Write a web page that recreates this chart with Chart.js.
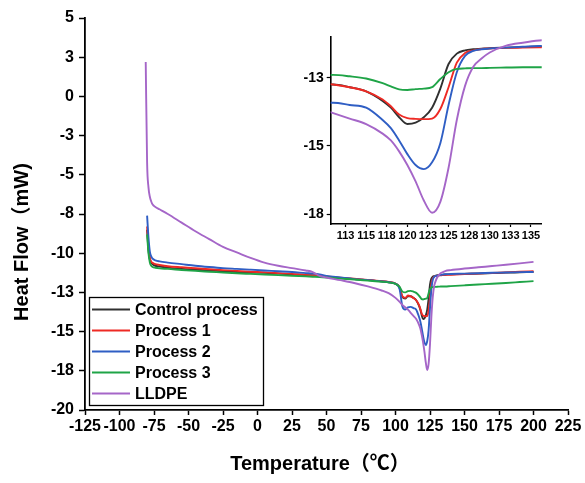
<!DOCTYPE html>
<html>
<head>
<meta charset="utf-8">
<script src="https://cdn.jsdelivr.net/npm/chart.js@4.4.0/dist/chart.umd.min.js"></script>
<style>
  html, body { margin: 0; padding: 0; background: #fff; }
  #wrap { position: relative; width: 585px; height: 483px; }
  #main { position: absolute; left: 0; top: 0; }
  #inset { position: absolute; left: 290px; top: 0; }
</style>
</head>
<body>
<div id="wrap">
  <canvas id="main" width="585" height="483"></canvas>
  <canvas id="inset" width="270" height="245"></canvas>
</div>
<script>
/* DSC heat flow curves, full scan + zoom on the melting peak */

const temps = [-81, -80, -79, -78, -77, -76, -74, -71,
  -65, -55, -45, -35, -25, -15, -5,
  5, 15, 25, 35, 40, 45, 50,
  60, 70, 80, 90, 95, 100,
  103, 105, 107, 109, 111, 113, 115, 117,
  118, 119, 120, 121, 122, 123, 124, 125,
  126, 127, 128, 129, 130, 132, 134, 136,
  140, 150, 160, 170, 180, 190, 200];

const controlFlow = [null, -8.5, -9.8, -10.4, -10.6, -10.7, -10.8, -10.85,
  -10.92, -11.0, -11.05, -11.1, -11.15, -11.2, -11.22,
  -11.25, -11.3, -11.35, -11.4, -11.42, -11.45, -11.5,
  -11.58, -11.65, -11.72, -11.8, -11.85, -11.95,
  -12.2, -12.8, -12.9, -12.75, -12.75, -12.85, -13.0, -13.35,
  -13.6, -13.95, -14.2, -14.15, -13.95, -13.6, -12.9, -12.0,
  -11.62, -11.5, -11.46, -11.44, -11.42, -11.4, -11.38, -11.36,
  -11.35, -11.32, -11.3, -11.27, -11.24, -11.22, -11.2];

const process1Flow = [null, -8.3, -9.6, -10.3, -10.55, -10.62, -10.7, -10.75,
  -10.83, -10.9, -10.96, -11.02, -11.08, -11.13, -11.18,
  -11.22, -11.27, -11.32, -11.38, -11.4, -11.43, -11.48,
  -11.56, -11.63, -11.7, -11.78, -11.83, -11.93,
  -12.2, -12.75, -12.85, -12.7, -12.75, -12.85, -13.0, -13.3,
  -13.55, -13.85, -13.98, -14.01, -14.02, -14.0, -13.65, -12.85,
  -11.95, -11.6, -11.5, -11.45, -11.43, -11.41, -11.4, -11.39,
  -11.37, -11.33, -11.3, -11.26, -11.22, -11.18, -11.15];

const process2Flow = [null, -7.6, -9.0, -9.9, -10.2, -10.35, -10.45, -10.52,
  -10.6, -10.7, -10.8, -10.88, -10.95, -11.0, -11.05,
  -11.1, -11.15, -11.2, -11.27, -11.3, -11.35, -11.45,
  -11.55, -11.65, -11.72, -11.8, -11.85, -11.95,
  -12.3, -13.4, -13.6, -13.45, -13.42, -13.5, -13.6, -14.05,
  -14.35, -14.8, -15.3, -15.7, -15.85, -15.6, -14.9, -13.5,
  -12.3, -11.7, -11.52, -11.46, -11.43, -11.4, -11.37, -11.34,
  -11.33, -11.3, -11.28, -11.25, -11.23, -11.21, -11.2];

const process3Flow = [null, -8.8, -10.0, -10.6, -10.8, -10.88, -10.93, -10.97,
  -11.0, -11.07, -11.13, -11.18, -11.23, -11.28, -11.32,
  -11.36, -11.4, -11.44, -11.48, -11.5, -11.52, -11.55,
  -11.62, -11.68, -11.75, -11.82, -11.86, -11.95,
  -12.15, -12.45, -12.5, -12.42, -12.4, -12.45, -12.53, -12.7,
  -12.82, -12.93, -12.95, -12.92, -12.9, -12.85, -12.55, -12.3,
  -12.18, -12.16, -12.15, -12.15, -12.14, -12.13, -12.12, -12.12,
  -12.1, -12.05, -12.0, -11.95, -11.9, -11.84, -11.78];

const lldpeFlow = [2.2, -4.2, -5.8, -6.4, -6.7, -6.9, -7.05, -7.2,
  -7.5, -8.05, -8.6, -9.1, -9.6, -9.95, -10.3,
  -10.6, -10.8, -10.95, -11.1, -11.2, -11.45, -11.55,
  -11.72, -11.9, -12.12, -12.38, -12.55, -12.85,
  -13.1, -13.3, -13.45, -13.6, -13.8, -14.0, -14.2, -14.55,
  -14.8, -15.2, -15.7, -16.3, -17.0, -17.45, -17.05, -15.8,
  -14.05, -12.8, -12.1, -11.8, -11.58, -11.33, -11.22, -11.14,
  -11.08, -10.98, -10.9, -10.82, -10.74, -10.65, -10.55];

const seriesNames = ['Control process', 'Process 1', 'Process 2', 'Process 3', 'LLDPE'];
const seriesColors = ['#303030', '#ee2a24', '#2f5ec4', '#1fa447', '#a566c8'];
const seriesValues = [controlFlow, process1Flow, process2Flow, process3Flow, lldpeFlow];

// main axes ticks (y labels are the rounded 2.5 steps)
const xTicks = [-125, -100, -75, -50, -25, 0, 25, 50, 75, 100, 125, 150, 175, 200, 225];
const yTicks = [-20, -17.5, -15, -12.5, -10, -7.5, -5, -2.5, 0, 2.5, 5];
const yTickLabels = ['-20', '-18', '-15', '-13', '-10', '-8', '-5', '-3', '0', '3', '5'];

// inset ticks
const insetXTicks = [112.5, 115, 117.5, 120, 122.5, 125, 127.5, 130, 132.5, 135];
const insetXTickLabels = ['113', '115', '118', '120', '123', '125', '128', '130', '133', '135'];
const insetYTicks = [-17.5, -15, -12.5];
const insetYTickLabels = ['-18', '-15', '-13'];

const FONT = "'Liberation Sans', Arial, 'Noto Sans CJK SC', sans-serif";

function makeDatasets(width) {
  return seriesNames.map((name, i) => ({
    label: name,
    data: temps.map((t, j) => ({ x: t, y: seriesValues[i][j] })),
    borderColor: seriesColors[i],
    borderWidth: width,
    pointRadius: 0,
    fill: false,
    cubicInterpolationMode: 'monotone',
    order: seriesNames.length - i
  }));
}

function fixedTicks(values, labels) {
  return {
    afterBuildTicks: axis => { axis.ticks = values.map(v => ({ value: v })); },
    ticks: { callback: (v, i) => labels ? labels[i] : String(v) }
  };
}

// titles + boxed legend for the main plot
const decorations = {
  id: 'decorations',
  afterDraw(chart) {
    const ctx = chart.ctx;
    ctx.save();
    ctx.fillStyle = '#000';
    ctx.font = 'bold 20px ' + FONT;
    ctx.textAlign = 'center';
    ctx.textBaseline = 'middle';
    ctx.fillText('Temperature（℃）', 320, 464);
    ctx.translate(22, 242);
    ctx.rotate(-Math.PI / 2);
    ctx.fillText('Heat Flow（mW)', 0, 0);
    ctx.restore();

    ctx.save();
    ctx.fillStyle = '#fff';
    ctx.fillRect(89, 297, 174, 108);
    ctx.strokeStyle = '#000';
    ctx.lineWidth = 1.3;
    ctx.strokeRect(89.5, 297.5, 174, 108);
    ctx.font = 'bold 16px ' + FONT;
    ctx.textBaseline = 'middle';
    seriesNames.forEach((name, i) => {
      const y = 309.5 + i * 21;
      ctx.strokeStyle = seriesColors[i];
      ctx.lineWidth = 1.8;
      ctx.beginPath();
      ctx.moveTo(92, y);
      ctx.lineTo(130, y);
      ctx.stroke();
      ctx.fillStyle = '#000';
      ctx.fillText(name, 135, y + 1);
    });
    ctx.restore();
  }
};

const mainX = fixedTicks(xTicks);
const mainY = fixedTicks(yTicks, yTickLabels);

new Chart(document.getElementById('main'), {
  type: 'line',
  data: { datasets: makeDatasets(1.9) },
  options: {
    responsive: false,
    animation: false,
    layout: { padding: { left: 0, top: 18, right: 17, bottom: 0 } },
    plugins: { legend: { display: false }, tooltip: { enabled: false } },
    scales: {
      x: {
        type: 'linear', min: -125, max: 225,
        afterBuildTicks: mainX.afterBuildTicks,
        afterFit: s => { s.height = 73; },
        grid: { drawOnChartArea: false, tickLength: 5, color: '#000', tickWidth: 1.5 },
        border: { color: '#000', width: 1.8 },
        ticks: { ...mainX.ticks, autoSkip: false, maxRotation: 0, color: '#000', padding: 2,
          font: { family: FONT, size: 16, weight: 'bold' } }
      },
      y: {
        type: 'linear', min: -20, max: 5,
        afterBuildTicks: mainY.afterBuildTicks,
        afterFit: s => { s.width = 85; },
        grid: { drawOnChartArea: false, tickLength: 6, color: '#000', tickWidth: 1.5 },
        border: { color: '#000', width: 1.8 },
        ticks: { ...mainY.ticks, autoSkip: false, color: '#000', padding: 5,
          font: { family: FONT, size: 16, weight: 'bold' } }
      }
    }
  },
  plugins: [decorations]
});

const insX = fixedTicks(insetXTicks, insetXTickLabels);
const insY = fixedTicks(insetYTicks, insetYTickLabels);

new Chart(document.getElementById('inset'), {
  type: 'line',
  data: { datasets: makeDatasets(1.9) },
  options: {
    responsive: false,
    animation: false,
    layout: { padding: { left: 0, top: 36.7, right: 18.3, bottom: 0 } },
    plugins: { legend: { display: false }, tooltip: { enabled: false } },
    scales: {
      x: {
        type: 'linear', min: 110.7, max: 136.3,
        afterBuildTicks: insX.afterBuildTicks,
        afterFit: s => { s.height = 21; },
        grid: { drawOnChartArea: false, tickLength: 3, color: '#000', tickWidth: 1.2 },
        border: { color: '#000', width: 1.6 },
        ticks: { ...insX.ticks, autoSkip: false, maxRotation: 0, color: '#000', padding: 2,
          font: { family: FONT, size: 11, weight: 'bold' } }
      },
      y: {
        type: 'linear', min: -17.86, max: -11.0,
        afterBuildTicks: insY.afterBuildTicks,
        afterFit: s => { s.width = 40.7; },
        grid: { drawOnChartArea: false, tickLength: 4, color: '#000', tickWidth: 1.2 },
        border: { color: '#000', width: 1.6 },
        ticks: { ...insY.ticks, autoSkip: false, color: '#000', padding: 3,
          font: { family: FONT, size: 14, weight: 'bold' } }
      }
    }
  }
});
</script>
</body>
</html>
